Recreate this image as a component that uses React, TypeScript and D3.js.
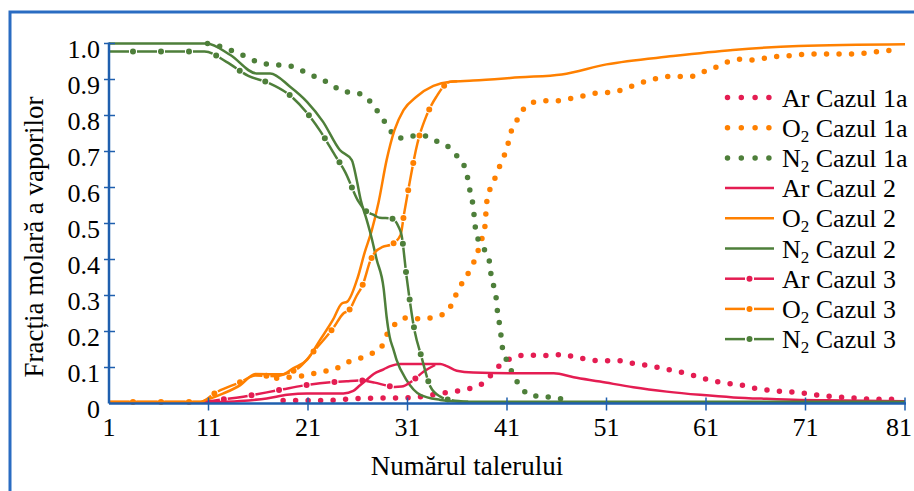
import React from 'react';
import * as d3 from 'd3';

// ---- Case 1a (dotted) ----
const arC1aPlates = [18.5, 22.7, 25.3, 31.7, 32.8, 33.9, 34.9, 36.1, 37.3, 38.3, 39.1, 39.96, 40.8, 41.8, 43.1, 44.1, 45.5, 46.7, 47.6, 48.8, 50.0, 51.2, 52.4, 53.6, 54.9, 55.9, 57.05, 58.3, 59.5, 60.7, 61.7, 63.1, 64.35, 65.4, 66.8, 68.0, 69.3, 70.4, 71.45, 72.6, 73.8, 75.0, 76.3, 77.5, 80.5];
const arC1aValues = [0.008, 0.008, 0.013, 0.017, 0.021, 0.026, 0.03, 0.035, 0.042, 0.051, 0.07, 0.098, 0.116, 0.13, 0.135, 0.133, 0.133, 0.137, 0.13, 0.124, 0.119, 0.119, 0.119, 0.112, 0.107, 0.102, 0.095, 0.088, 0.08, 0.07, 0.063, 0.056, 0.053, 0.045, 0.039, 0.035, 0.033, 0.03, 0.026, 0.022, 0.019, 0.017, 0.014, 0.012, 0.012];

const o2C1aPlates = [17.85, 19.4, 21.0, 22.2, 23.5, 24.8, 26.06, 27.4, 28.4, 28.9, 29.74, 30.9, 32.4, 33.76, 34.94, 35.6, 36.1, 36.88, 37.45, 37.95, 38.29, 38.75, 38.9, 39.05, 39.5, 39.96, 40.5, 41.05, 41.35, 41.8, 42.58, 43.58, 44.72, 46.0, 47.33, 48.57, 49.84, 51.18, 52.56, 54.03, 55.54, 56.88, 58.22, 59.46, 60.6, 61.73, 63.08, 64.45, 65.98, 67.3, 68.8, 70.11, 71.28, 72.5, 73.76, 74.97, 76.1, 77.8, 79.2, 80.5];
const o2C1aValues = [0.07, 0.074, 0.079, 0.088, 0.093, 0.113, 0.124, 0.139, 0.158, 0.19, 0.22, 0.238, 0.235, 0.241, 0.253, 0.285, 0.317, 0.35, 0.382, 0.41, 0.445, 0.484, 0.536, 0.579, 0.604, 0.639, 0.674, 0.715, 0.75, 0.776, 0.815, 0.836, 0.841, 0.841, 0.847, 0.854, 0.862, 0.864, 0.871, 0.887, 0.899, 0.908, 0.908, 0.908, 0.92, 0.931, 0.948, 0.956, 0.954, 0.962, 0.965, 0.968, 0.971, 0.971, 0.971, 0.971, 0.971, 0.976, 0.98, 0.981];

const n2C1aPlates = [10.9, 12.3, 13.6, 14.9, 16.0, 17.05, 18.1, 19.5, 20.6, 22.1, 23.4, 24.5, 25.6, 26.7, 27.6, 28.4, 29.2, 29.9, 30.75, 31.6, 32.8, 33.9, 35.0, 35.9, 36.7, 37.05, 37.3, 37.6, 37.75, 37.9, 38.7, 39.2, 39.4, 39.7, 39.9, 40.05, 40.25, 40.4, 40.55, 40.95, 41.4, 42.0, 42.6, 43.5, 44.6, 45.7, 47.1];
const n2C1aValues = [1.0, 0.991, 0.977, 0.962, 0.948, 0.942, 0.94, 0.936, 0.922, 0.903, 0.886, 0.866, 0.864, 0.854, 0.826, 0.795, 0.762, 0.738, 0.737, 0.743, 0.743, 0.729, 0.715, 0.69, 0.66, 0.626, 0.588, 0.547, 0.507, 0.473, 0.429, 0.399, 0.357, 0.322, 0.295, 0.253, 0.22, 0.188, 0.153, 0.121, 0.093, 0.061, 0.038, 0.021, 0.021, 0.014, 0.013];

// ---- Case 2 (solid) ----
const arC2Plates = [10.85, 14.2, 16.85, 18.9, 20.9, 24.55, 25.55, 26.2, 26.9, 27.6, 28.6, 29.2, 30.25, 34.3, 34.95, 35.95, 37.6, 42.3, 45.7, 47.7, 50.35, 53.7, 57.05, 60.4, 63.75, 67.1, 70.45, 73.1, 81];
const arC2Values = [0.003, 0.007, 0.014, 0.024, 0.028, 0.028, 0.035, 0.05, 0.066, 0.082, 0.095, 0.103, 0.11, 0.11, 0.104, 0.091, 0.086, 0.084, 0.084, 0.073, 0.061, 0.045, 0.033, 0.024, 0.017, 0.013, 0.01, 0.009, 0.006];

const o2C2Plates = [1, 10.2, 10.8, 12.5, 14.2, 15.7, 18.4, 19.5, 20.9, 22.2, 23.5, 24.4, 24.95, 26.0, 26.7, 27.4, 28.1, 28.9, 29.7, 30.6, 31.9, 33.6, 35.3, 37.6, 42.3, 46.5, 51.0, 57.7, 63.7, 70.3, 81];
const o2C2Values = [0.005, 0.005, 0.01, 0.028, 0.051, 0.082, 0.081, 0.098, 0.121, 0.176, 0.232, 0.278, 0.283, 0.35, 0.42, 0.48, 0.56, 0.676, 0.76, 0.815, 0.852, 0.882, 0.894, 0.897, 0.906, 0.914, 0.942, 0.965, 0.982, 0.993, 0.998];

const n2C2Plates = [1, 10.8, 13.2, 15.8, 17.2, 19.2, 20.9, 22.5, 24.2, 25.4, 25.9, 26.3, 26.9, 27.3, 27.9, 28.6, 28.9, 29.2, 29.6, 29.9, 30.9, 32.3, 34.3, 36.3, 81];
const n2C2Values = [1.0, 1.0, 0.968, 0.917, 0.917, 0.88, 0.838, 0.783, 0.704, 0.676, 0.62, 0.565, 0.51, 0.47, 0.4, 0.32, 0.241, 0.186, 0.149, 0.121, 0.065, 0.024, 0.01, 0.005, 0.005];

// ---- Case 3 (dash-dot) ----
const arC3Plates = [10.15, 11.5, 14.5, 18.2, 21.0, 24.9, 26.2, 27.7, 28.9, 29.7, 30.4, 31.5, 32.6, 34.0];
const arC3Values = [0.003, 0.008, 0.019, 0.038, 0.052, 0.062, 0.064, 0.058, 0.05, 0.046, 0.047, 0.063, 0.088, 0.11];

const o2C3Plates = [1, 10.2, 11.65, 14.25, 15.7, 17.7, 18.7, 20.2, 21.7, 23.6, 24.55, 25.15, 25.9, 26.5, 27.3, 27.8, 28.5, 29.4, 30.3, 30.65, 31.15, 32.0, 32.9, 33.9, 35.3, 36];
const o2C3Values = [0.004, 0.004, 0.029, 0.06, 0.078, 0.076, 0.082, 0.102, 0.149, 0.212, 0.25, 0.26, 0.3, 0.33, 0.399, 0.422, 0.435, 0.442, 0.468, 0.526, 0.604, 0.723, 0.799, 0.852, 0.894, 0.895];

const n2C3Plates = [1, 10.6, 12.8, 15.0, 17.0, 19.4, 22.2, 23.7, 24.7, 26.1, 26.8, 27.6, 28.2, 29.4, 30.1, 30.4, 30.9, 31.7, 32.4, 33.3, 34.3, 35.3, 37.1];
const n2C3Values = [0.978, 0.978, 0.949, 0.91, 0.891, 0.851, 0.758, 0.69, 0.645, 0.56, 0.535, 0.524, 0.516, 0.514, 0.491, 0.468, 0.354, 0.204, 0.13, 0.047, 0.019, 0.01, 0.005];

// ---- Axes / labels ----
const xTicks = [1, 11, 21, 31, 41, 51, 61, 71, 81];
const yTicks = [0, 0.1, 0.2, 0.3, 0.4, 0.5, 0.6, 0.7, 0.8, 0.9, 1.0];
const xTitle = 'Numărul talerului';
const yTitle = 'Fracția molară a vaporilor';
const speciesNames = ['Ar', 'O', 'N'];
const speciesSubs = ['', '2', '2'];
const caseNames = ['Cazul 1a', 'Cazul 2', 'Cazul 3'];

const RED = '#e41d52';
const ORANGE = '#ff8000';
const GREEN = '#4e7f3a';
const BLUE = '#1f5fae';
const FONT = "'Liberation Serif', serif";
const tStyle = { fontFamily: FONT };

type Style = 'dot' | 'solid' | 'dashdot';

const series: { plates: number[]; values: number[]; color: string; style: Style; sp: number; cs: number }[] = [
  { plates: arC1aPlates, values: arC1aValues, color: RED, style: 'dot', sp: 0, cs: 0 },
  { plates: o2C1aPlates, values: o2C1aValues, color: ORANGE, style: 'dot', sp: 1, cs: 0 },
  { plates: n2C1aPlates, values: n2C1aValues, color: GREEN, style: 'dot', sp: 2, cs: 0 },
  { plates: arC2Plates, values: arC2Values, color: RED, style: 'solid', sp: 0, cs: 1 },
  { plates: o2C2Plates, values: o2C2Values, color: ORANGE, style: 'solid', sp: 1, cs: 1 },
  { plates: n2C2Plates, values: n2C2Values, color: GREEN, style: 'solid', sp: 2, cs: 1 },
  { plates: arC3Plates, values: arC3Values, color: RED, style: 'dashdot', sp: 0, cs: 2 },
  { plates: o2C3Plates, values: o2C3Values, color: ORANGE, style: 'dashdot', sp: 1, cs: 2 },
  { plates: n2C3Plates, values: n2C3Values, color: GREEN, style: 'dashdot', sp: 2, cs: 2 },
];

function StyledPath({ d, color, style }: { d: string; color: string; style: Style }) {
  if (style === 'dot') {
    return <path d={d} fill="none" stroke={color} strokeWidth={5.5} strokeLinecap="round" strokeDasharray="0 12.5" />;
  }
  if (style === 'solid') {
    return <path d={d} fill="none" stroke={color} strokeWidth={2.5} />;
  }
  return (
    <g>
      <path d={d} fill="none" stroke={color} strokeWidth={2.5} strokeDasharray="20 8" />
      <path d={d} fill="none" stroke={color} strokeWidth={6} strokeLinecap="round" strokeDasharray="0 28" strokeDashoffset={4} />
    </g>
  );
}

export default function App() {
  const x = d3.scaleLinear().domain([1, 81]).range([109, 905]);
  const y = d3.scaleLinear().domain([0, 1]).range([403.5, 43.5]);
  const line = d3
    .line<[number, number]>()
    .x((d) => x(d[0]))
    .y((d) => y(d[1]))
    .curve(d3.curveMonotoneX);

  const fmt = (v: number) => (v === 0 ? '0' : d3.format('.1f')(v));
  const legendY = (i: number) => 97.5 + i * 30.2;

  return (
    <svg width={914} height={491} style={{ position: 'absolute', left: 0, top: 0, background: '#fff' }}>
      <rect x={0} y={0} width={914} height={491} fill="#fff" />
      <rect x={10} y={12} width={930} height={500} fill="none" stroke="#2a6cc2" strokeWidth={3} />

      {/* series */}
      {series.map((s, i) => {
        const pts = s.plates.map((p, j) => [p, s.values[j]] as [number, number]);
        return <StyledPath key={i} d={line(pts) || ''} color={s.color} style={s.style} />;
      })}

      {/* axes */}
      <line x1={x(1)} x2={x(81) + 1} y1={y(0)} y2={y(0)} stroke={BLUE} strokeWidth={2.5} />
      <line x1={x(1)} x2={x(1)} y1={y(1) - 1} y2={y(0)} stroke={BLUE} strokeWidth={2.5} />
      {yTicks.map((t) => (
        <g key={'y' + t}>
          {t > 0 && <line x1={x(1) - 5} x2={x(1) + 6} y1={y(t)} y2={y(t)} stroke={BLUE} strokeWidth={1.5} />}
          <text x={100} y={y(t) + 14} textAnchor="end" fontSize={26} fill="#000" style={tStyle}>
            {fmt(t)}
          </text>
        </g>
      ))}
      {xTicks.map((t) => (
        <g key={'x' + t}>
          {t > 1 && <line x1={x(t)} x2={x(t)} y1={y(0) - 6} y2={y(0) + 7} stroke={BLUE} strokeWidth={1.5} />}
          <text x={t === 81 ? x(t) - 6 : x(t)} y={436} textAnchor="middle" fontSize={26} fill="#000" style={tStyle}>
            {t}
          </text>
        </g>
      ))}
      <text x={467} y={475} textAnchor="middle" fontSize={27} fill="#000" style={tStyle}>
        {xTitle}
      </text>
      <text transform="translate(43,237) rotate(-90)" textAnchor="middle" fontSize={27} fill="#000" style={tStyle}>
        {yTitle}
      </text>

      {/* legend */}
      {series.map((s, i) => {
        const cy = legendY(i);
        return (
          <g key={'lg' + i}>
            {s.style === 'dot' && (
              <path d={`M727.5,${cy}L769,${cy}`} stroke={s.color} strokeWidth={5.5} strokeLinecap="round" strokeDasharray="0 13.8" />
            )}
            {s.style === 'solid' && <path d={`M725,${cy}L774,${cy}`} stroke={s.color} strokeWidth={2.5} />}
            {s.style === 'dashdot' && (
              <g>
                <path d={`M725,${cy}L745,${cy}`} stroke={s.color} strokeWidth={2.5} />
                <path d={`M754,${cy}L774,${cy}`} stroke={s.color} strokeWidth={2.5} />
                <circle cx={749.5} cy={cy} r={3} fill={s.color} />
              </g>
            )}
            <text x={782} y={cy + 9} fontSize={26} fill="#000" style={tStyle}>
              {speciesNames[s.sp]}
              {speciesSubs[s.sp] && (
                <tspan fontSize={17} dy={5}>
                  {speciesSubs[s.sp]}
                </tspan>
              )}
              <tspan dy={speciesSubs[s.sp] ? -5 : 0}>{' ' + caseNames[s.cs]}</tspan>
            </text>
          </g>
        );
      })}
    </svg>
  );
}
